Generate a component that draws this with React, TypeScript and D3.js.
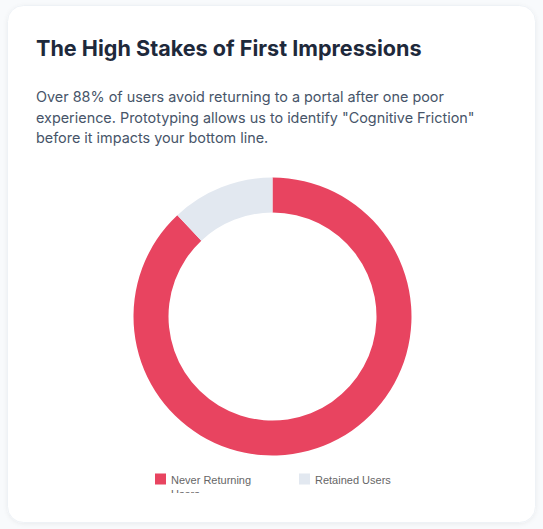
import React from "react";
import * as d3 from "d3";

const categories = ["Never Returning Users", "Retained Users"];
const values = [88, 12];
const colors = ["#e84460", "#e2e8f0"];
const titleText = "The High Stakes of First Impressions";
const bodyLines = [
  "Over 88% of users avoid returning to a portal after one poor",
  "experience. Prototyping allows us to identify \"Cognitive Friction\"",
  "before it impacts your bottom line.",
];
const legendLines = [["Never Returning", "Users"], ["Retained Users"]];

export default function App() {
  const W = 543, H = 529;
  const cx = 272.5, cy = 316.5, rOuter = 139, rInner = 104;
  const pie = d3.pie<number>().sort(null).value((d) => d)(values);
  const arc = d3.arc<d3.PieArcDatum<number>>().innerRadius(rInner).outerRadius(rOuter);
  const legendX = [155, 299];
  return (
    <svg width={W} height={H} style={{ position: "absolute", left: 0, top: 0 }}>
      <defs>
        <filter id="sh" x="-10%" y="-10%" width="120%" height="120%">
          <feDropShadow dx="0" dy="1" stdDeviation="2" floodColor="#0f172a" floodOpacity="0.06" />
        </filter>
        <clipPath id="clip">
          <rect x={0} y={0} width={W} height={493} />
        </clipPath>
      </defs>
      <rect x={0} y={0} width={W} height={H} fill="#f8fafc" />
      <rect x={7.5} y={5.5} width={528} height={517} rx={16} fill="#ffffff" stroke="#eef2f6" filter="url(#sh)" />
      <text x={36} y={56} fontFamily="Inter" fontWeight={700} fontSize={21.6} fill="#1e293b">{titleText}</text>
      <text fontFamily="Inter" fontSize={14.4} fill="#475569">
        {bodyLines.map((l, i) => (
          <tspan key={i} x={36} y={101.7 + i * 20.8}>{l}</tspan>
        ))}
      </text>
      <g transform={`translate(${cx},${cy})`}>
        {pie.map((p, i) => (
          <path key={i} d={arc(p) || ""} fill={colors[i]} />
        ))}
      </g>
      <g clipPath="url(#clip)">
        {categories.map((c, i) => (
          <g key={c}>
            <rect x={legendX[i]} y={473.5} width={11} height={11} fill={colors[i]} />
            <text fontFamily="Liberation Sans, Arial, sans-serif" fontSize={11} fill="#666666">
              {legendLines[i].map((l, j) => (
                <tspan key={j} x={legendX[i] + 16} y={483.5 + j * 14}>{l}</tspan>
              ))}
            </text>
          </g>
        ))}
      </g>
    </svg>
  );
}
